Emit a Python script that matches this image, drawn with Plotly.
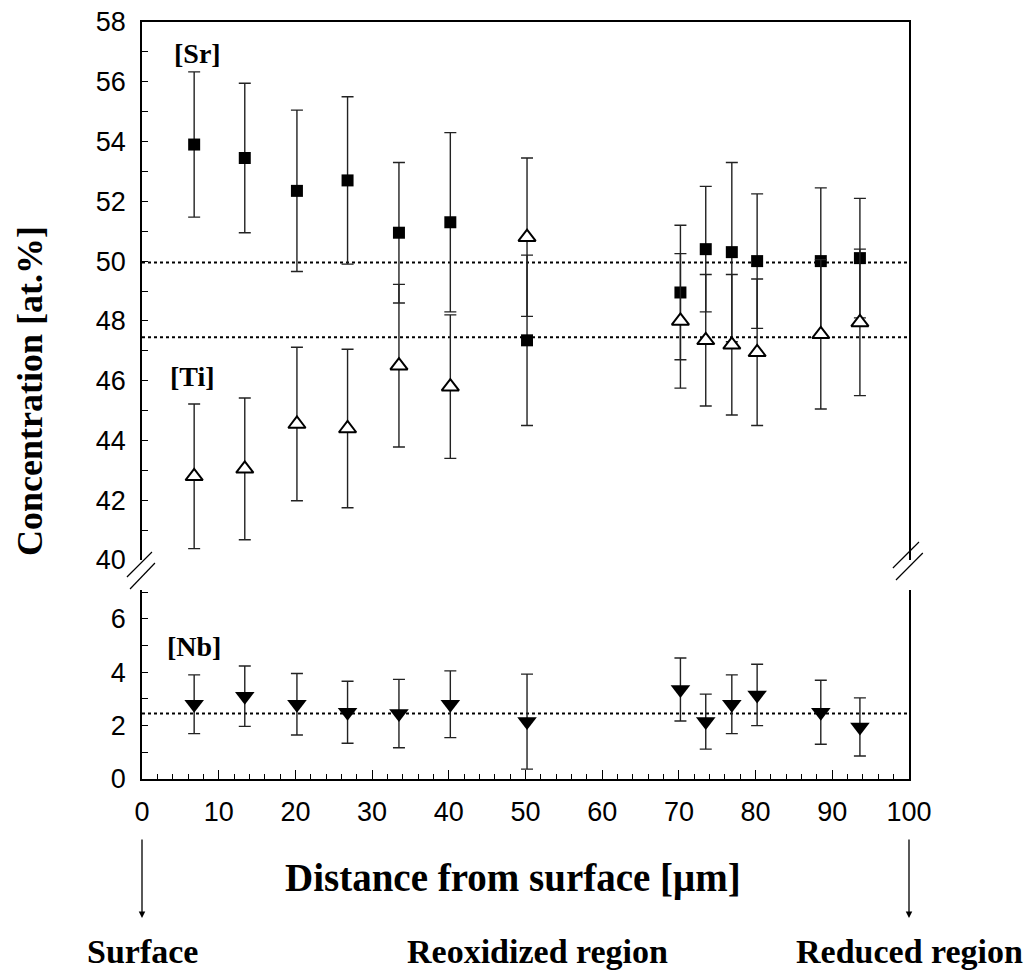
import plotly.graph_objects as go

# distance from surface [um]
dist = [6.8, 13.4, 20.2, 26.8, 33.5, 40.2, 50.2, 70.2, 73.5, 76.9, 80.2, 88.5, 93.6]

sr = [53.9, 53.45, 52.35, 52.7, 50.95, 51.3, 47.35, 48.95, 50.4, 50.3, 50.0, 50.0, 50.1]
sr_err = [2.43, 2.5, 2.7, 2.8, 2.35, 3.0, 2.85, 2.25, 2.1, 3.0, 2.25, 2.45, 2.0]

ti = [42.8, 43.05, 44.55, 44.4, 46.5, 45.8, 50.8, 48.0, 47.35, 47.2, 46.95, 47.55, 47.95]
ti_err = [2.42, 2.37, 2.57, 2.65, 2.72, 2.4, 2.65, 2.25, 2.2, 2.35, 2.45, 2.5, 2.45]

nb = [2.8, 3.1, 2.8, 2.5, 2.45, 2.8, 2.15, 3.35, 2.15, 2.8, 3.15, 2.5, 1.95]
nb_err = [1.1, 1.13, 1.15, 1.16, 1.28, 1.25, 1.78, 1.18, 1.03, 1.1, 1.15, 1.2, 1.09]

# nominal levels (dotted lines)
sr_ref = 49.95
ti_ref = 47.45
nb_ref = 2.45

x_ticks = list(range(0, 101, 10))
upper_ticks = list(range(40, 59, 2))
lower_ticks = [0, 2, 4, 6]

serif = "Liberation Serif"
sans = "Liberation Sans"

fig = go.Figure()

dot = dict(color="black", width=2, dash="dot")
fig.add_trace(go.Scatter(x=[0, 100], y=[sr_ref, sr_ref], mode="lines", line=dot,
                         xaxis="x2", yaxis="y2", hoverinfo="skip"))
fig.add_trace(go.Scatter(x=[0, 100], y=[ti_ref, ti_ref], mode="lines", line=dot,
                         xaxis="x2", yaxis="y2", hoverinfo="skip"))
fig.add_trace(go.Scatter(x=[0, 100], y=[nb_ref, nb_ref], mode="lines", line=dot,
                         xaxis="x", yaxis="y", hoverinfo="skip"))

err_style = dict(type="data", thickness=1.4, width=6, color="#222")

fig.add_trace(go.Scatter(
    x=dist, y=sr, mode="markers", name="[Sr]", xaxis="x2", yaxis="y2",
    error_y=dict(array=sr_err, **err_style),
    marker=dict(symbol="square", size=12, color="black")))
fig.add_trace(go.Scatter(
    x=dist, y=ti, mode="markers", name="[Ti]", xaxis="x2", yaxis="y2",
    error_y=dict(array=ti_err, **err_style),
    marker=dict(symbol="triangle-up", size=15, color="white",
                line=dict(color="black", width=2))))
fig.add_trace(go.Scatter(
    x=dist, y=nb, mode="markers", name="[Nb]", xaxis="x", yaxis="y",
    error_y=dict(array=nb_err, **err_style),
    marker=dict(symbol="triangle-down", size=17, color="black")))

axis_common = dict(showgrid=False, zeroline=False, showline=True,
                   linecolor="black", linewidth=1.5,
                   automargin=False, ticklabeloverflow="allow",
                   tickfont=dict(family=sans, size=27, color="black"))

# page body has an 8px margin, so the margins are trimmed by that much
fig.update_layout(
    width=1032, height=976,
    margin=dict(l=134, r=131, t=14, b=205),
    paper_bgcolor="white", plot_bgcolor="white",
    showlegend=False,
    xaxis=dict(domain=[0, 1], anchor="y", range=[0, 100],
               tickvals=x_ticks, ticks="inside", ticklen=9, tickwidth=1.3,
               tickcolor="black", ticklabelstandoff=8,
               minor=dict(dtick=2, tick0=0, ticks="inside", ticklen=5,
                          tickwidth=1, tickcolor="black"),
               **axis_common),
    yaxis=dict(domain=[0, 0.2497], anchor="x", range=[0, 7.08],
               tickvals=lower_ticks, ticks="inside", ticklen=6, tickwidth=1.2,
               tickcolor="black", mirror=True, ticklabelstandoff=9,
               minor=dict(dtick=1, tick0=0, ticks="inside", ticklen=6,
                          tickwidth=1.2, tickcolor="black"),
               **axis_common),
    xaxis2=dict(domain=[0, 1], anchor="y2", range=[0, 100], side="top",
                showticklabels=False, ticks="", **axis_common),
    yaxis2=dict(domain=[0.2893, 1], anchor="x2", range=[40, 58],
                tickvals=upper_ticks, ticks="inside", ticklen=6, tickwidth=1.2,
                tickcolor="black", mirror=True, ticklabelstandoff=9,
                minor=dict(dtick=1, tick0=40, ticks="inside", ticklen=6,
                           tickwidth=1.2, tickcolor="black"),
                **axis_common),
)

# element labels
lab = dict(family=serif, size=28, color="black")
fig.add_annotation(x=7.3, y=56.95, xref="x2", yref="y2", text="<b>[Sr]</b>",
                   showarrow=False, font=lab)
fig.add_annotation(x=6.6, y=46.15, xref="x2", yref="y2", text="<b>[Ti]</b>",
                   showarrow=False, font=lab)
fig.add_annotation(x=6.8, y=4.95, xref="x", yref="y", text="<b>[Nb]</b>",
                   showarrow=False, font=lab)

# axis titles
fig.add_annotation(x=-0.146, y=0.5125, xref="paper", yref="paper",
                   xanchor="center", yanchor="middle",
                   text="<b>Concentration [at.%]</b>", textangle=-90,
                   showarrow=False, font=dict(family=serif, size=36, color="black"))
fig.add_annotation(x=0.4837, y=-0.1308, xref="paper", yref="paper",
                   xanchor="center", yanchor="middle",
                   text="<b>Distance from surface [μm]</b>",
                   showarrow=False, font=dict(family=serif, size=39, color="black"))

# region arrows and labels
for xv in [0, 100]:
    fig.add_annotation(x=xv, y=-0.1836, xref="x", yref="paper", text="",
                       showarrow=True, ax=0, ay=-80, arrowhead=2, arrowsize=1,
                       arrowwidth=1.3, arrowcolor="black")

region_x = [0, 51.6, 100]
region_text = ["Surface", "Reoxidized region", "Reduced region"]
for xv, t in zip(region_x, region_text):
    fig.add_annotation(x=xv, y=-0.2285, xref="x", yref="paper",
                       xanchor="center", yanchor="middle",
                       text="<b>" + t + "</b>", showarrow=False,
                       font=dict(family=serif, size=34, color="black"))

# axis break marks
brk = dict(color="black", width=1.2)
for x0, y0, x1, y1 in [(-0.0196, 0.2668, 0.013, 0.2999),
                       (-0.0156, 0.2510, 0.0169, 0.2853),
                       (0.979, 0.2787, 1.013, 0.3131),
                       (0.983, 0.2629, 1.018, 0.2985)]:
    fig.add_shape(type="line", xref="paper", yref="paper",
                  x0=x0, y0=y0, x1=x1, y1=y1, line=brk)

fig.write_html("out.html")
